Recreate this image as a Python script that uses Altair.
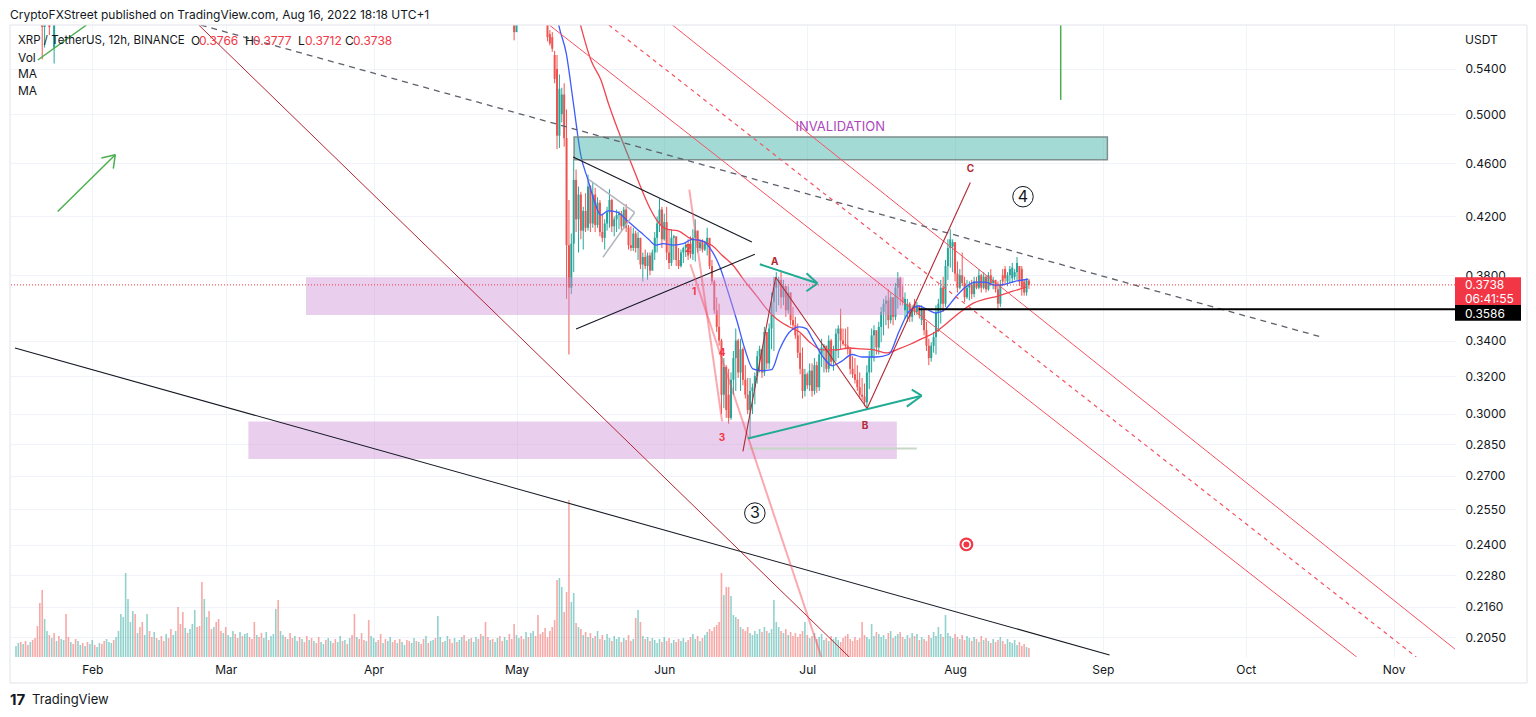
import altair as alt
import pandas as pd

FONT = "Inter"
INK = "#131722"
TEAL = "#26a69a"
RED = "#ef5350"

# ---------------- 12h candles XRP/USDT (Binance), first candle 2022-05-07 12:00 ----------------
CANDLE_START = "2022-05-07 12:00"
opens = [
    .592, .573, .570, .553, .540, .482, .500, .517, .480, .400,
    .372, .401, .447, .418, .436, .410, .424, .412, .442, .415,
    .436, .414, .430, .409, .405, .415, .423, .432, .413, .418,
    .421, .422, .413, .425, .412, .400, .398, .408, .398, .405,
    .387, .392, .386, .393, .383, .395, .405, .415, .425, .404,
    .416, .395, .388, .405, .406, .390, .386, .395, .398, .400,
    .401, .394, .405, .410, .398, .402, .397, .401, .405, .386,
    .376, .358, .348, .340, .310, .325, .310, .298, .318, .330,
    .340, .322, .335, .318, .310, .302, .312, .314, .320, .331,
    .335, .322, .345, .327, .347, .363, .372, .376, .377, .366,
    .373, .358, .369, .352, .349, .343, .333, .324, .312, .321,
    .315, .323, .312, .326, .314, .332, .336, .337, .324, .340,
    .328, .334, .344, .347, .340, .338, .337, .335, .324, .321,
    .318, .314, .310, .309, .306, .322, .330, .343, .346, .336,
    .348, .357, .362, .364, .352, .366, .354, .372, .378, .366,
    .358, .356, .362, .354, .362, .357, .361, .352, .358, .346,
    .337, .330, .337, .342, .357, .362, .372, .362, .386, .398,
    .399, .402, .381, .372, .380, .375, .366, .372, .374, .368,
    .376, .372, .380, .372, .379, .371, .380, .375, .377, .371,
    .362, .380, .384, .376, .380, .378, .379, .382, .386, .384,
    .376, .369, .3766,
]
highs = [
    .600, .577, .575, .557, .553, .535, .523, .527, .504, .432,
    .408, .463, .455, .442, .438, .427, .437, .451, .443, .445,
    .441, .434, .432, .422, .418, .427, .440, .433, .420, .425,
    .424, .424, .427, .429, .414, .413, .412, .410, .409, .405,
    .395, .397, .395, .395, .397, .409, .420, .433, .427, .422,
    .427, .411, .411, .407, .406, .398, .397, .399, .402, .404,
    .406, .411, .418, .410, .404, .404, .403, .412, .405, .390,
    .377, .366, .362, .341, .330, .326, .324, .322, .334, .347,
    .341, .341, .336, .326, .319, .319, .316, .322, .334, .337,
    .335, .348, .345, .350, .369, .379, .382, .379, .382, .377,
    .373, .373, .369, .360, .354, .350, .344, .336, .324, .322,
    .327, .327, .330, .328, .335, .341, .338, .337, .343, .341,
    .337, .347, .349, .359, .347, .347, .348, .336, .331, .330,
    .326, .322, .319, .316, .326, .334, .347, .349, .346, .351,
    .360, .365, .367, .371, .369, .366, .375, .382, .379, .373,
    .369, .365, .363, .361, .365, .363, .361, .361, .359, .351,
    .341, .339, .345, .361, .365, .377, .379, .390, .404, .411,
    .404, .402, .389, .384, .395, .379, .377, .376, .377, .379,
    .379, .384, .381, .382, .380, .382, .384, .379, .377, .376,
    .377, .384, .386, .382, .386, .388, .384, .392, .386, .386,
    .377, .378, .3777,
]
lows = [
    .566, .562, .556, .527, .471, .472, .493, .473, .365, .332,
    .368, .382, .409, .395, .404, .397, .409, .410, .409, .412,
    .409, .412, .406, .402, .397, .410, .412, .409, .406, .409,
    .411, .410, .411, .409, .397, .396, .396, .395, .390, .384,
    .376, .384, .377, .380, .383, .390, .395, .409, .398, .403,
    .390, .384, .386, .390, .386, .384, .385, .388, .392, .390,
    .391, .390, .389, .395, .396, .395, .396, .393, .384, .374,
    .356, .345, .337, .300, .303, .298, .295, .297, .310, .312,
    .319, .312, .315, .308, .300, .288, .300, .305, .316, .322,
    .319, .320, .324, .324, .335, .334, .357, .361, .359, .361,
    .354, .356, .349, .347, .341, .330, .321, .308, .309, .313,
    .312, .309, .310, .311, .312, .325, .322, .322, .322, .326,
    .323, .328, .330, .335, .337, .335, .332, .321, .319, .316,
    .312, .308, .307, .304, .302, .313, .322, .328, .332, .332,
    .339, .343, .349, .347, .350, .349, .352, .359, .361, .361,
    .353, .351, .351, .351, .355, .355, .353, .349, .343, .334,
    .326, .328, .333, .332, .345, .350, .357, .360, .377, .385,
    .382, .376, .369, .371, .373, .363, .365, .364, .365, .366,
    .371, .371, .369, .371, .369, .370, .373, .371, .369, .359,
    .360, .373, .375, .373, .375, .375, .377, .377, .373, .367,
    .367, .367, .3712,
]
closes = [
    .570, .564, .559, .531, .482, .522, .517, .480, .400, .372,
    .401, .447, .418, .436, .410, .424, .412, .442, .415, .436,
    .414, .430, .409, .405, .415, .423, .432, .413, .418, .421,
    .422, .413, .425, .412, .400, .398, .408, .398, .405, .387,
    .392, .386, .393, .383, .395, .405, .415, .425, .404, .416,
    .395, .388, .405, .406, .390, .386, .395, .398, .400, .393,
    .394, .405, .410, .398, .402, .397, .401, .405, .386, .376,
    .358, .348, .340, .310, .325, .302, .298, .318, .330, .340,
    .322, .335, .318, .310, .302, .312, .314, .320, .331, .335,
    .322, .345, .327, .347, .363, .372, .376, .377, .366, .373,
    .358, .369, .352, .349, .343, .333, .324, .312, .321, .315,
    .323, .312, .326, .314, .332, .336, .337, .324, .340, .328,
    .334, .344, .347, .340, .338, .337, .335, .324, .321, .318,
    .314, .310, .309, .306, .322, .330, .343, .346, .336, .348,
    .357, .362, .364, .352, .366, .354, .372, .378, .366, .363,
    .365, .362, .354, .359, .357, .361, .355, .358, .346, .337,
    .330, .337, .342, .357, .362, .372, .362, .386, .398, .404,
    .402, .381, .372, .380, .375, .366, .372, .374, .368, .376,
    .372, .380, .372, .379, .371, .380, .375, .377, .371, .362,
    .374, .376, .378, .380, .384, .385, .382, .388, .376, .372,
    .369, .3766, .3738,
]

# earlier candles whose lows dip into the visible price range (top edge of the chart)
early_t = ["01-21 12", "01-22 00", "01-23 00", "01-24 00", "04-30 12", "05-01 00"]
early_o = [.640, .580, .610, .560, .600, .575]
early_h = [.660, .620, .630, .620, .610, .600]
early_l = [.549, .560, .572, .545, .567, .578]
early_c = [.580, .600, .580, .600, .575, .590]

# ---------------- 12h volume, first bar 2022-01-16 00:00 (millions XRP) ----------------
VOL_START = "2022-01-16 00:00"
volumes = [
    110, 140, 150, 130, 160, 120, 150, 170, 190, 310, 540, 670, 380, 260, 220, 190, 240, 160, 210, 180,
    170, 430, 200, 150, 130, 180, 160, 120, 140, 110, 150, 130, 170, 120, 100, 140, 130, 160, 180, 150,
    140, 170, 200, 260, 430, 400, 840, 580, 350, 460, 430, 240, 300, 350, 220, 430, 260, 200, 250, 190,
    170, 210, 160, 230, 190, 280, 220, 260, 500, 330, 450, 290, 240, 280, 330, 470, 300, 310, 750, 580,
    400, 460, 280, 300, 350, 380, 260, 240, 300, 220, 200, 260, 230, 190, 250, 210, 230, 240, 200, 180,
    350, 220, 200, 240, 190, 250, 170, 210, 230, 480, 570, 260, 220, 200, 180, 240, 190, 210, 160, 200,
    180, 150, 210, 170, 190, 160, 140, 200, 150, 130, 170, 190, 160, 140, 180, 150, 210, 160, 170, 130,
    190, 220, 430, 200, 180, 240, 170, 160, 370, 210, 190, 150, 170, 230, 140, 180, 160, 200, 150, 170,
    140, 180, 150, 120, 170, 160, 140, 190, 160, 150, 130, 180, 210, 140, 160, 170, 190, 410, 200, 150,
    160, 210, 180, 140, 190, 150, 170, 200, 220, 160, 180, 190, 150, 200, 180, 230, 210, 350, 200, 170,
    180, 150, 190, 210, 160, 200, 170, 230, 180, 330, 220, 190, 210, 180, 250, 200, 240, 260, 210, 420,
    230, 250, 290, 200, 260, 300, 370, 770, 790, 700, 450, 650, 1570, 550, 640, 340, 300, 280, 220, 250,
    200, 240, 190, 210, 260, 180, 220, 170, 230, 190, 160, 210, 180, 200, 150, 190, 170, 220, 160, 180,
    390, 470, 350, 210, 180, 200, 160, 190, 170, 140, 180, 150, 200, 160, 190, 140, 170, 150, 180, 160,
    190, 150, 170, 200, 230, 180, 210, 160, 190, 220, 250, 280, 260, 300, 320, 350, 840, 620, 700, 700,
    610, 420, 400, 380, 300, 280, 260, 300, 240, 220, 260, 230, 280, 250, 300, 260, 240, 280, 570, 350,
    300, 260, 240, 280, 220, 250, 210, 240, 200, 230, 260, 350, 220, 190, 210, 240, 180, 200, 230, 170,
    190, 160, 210, 180, 200, 170, 150, 190, 210, 230, 180, 160, 200, 170, 190, 350, 220, 200, 180, 330,
    210, 250, 230, 200, 220, 180, 240, 260, 190, 210, 230, 250, 200, 180, 220, 190, 240, 210, 230, 170,
    200, 180, 160, 220, 190, 250, 210, 300, 230, 200, 420, 240, 210, 190, 230, 200, 180, 220, 170, 210,
    190, 160, 200, 180, 150, 210, 170, 190, 160, 140, 180, 150, 170, 200, 160, 130, 180, 150, 140, 170,
    120, 150, 110, 130, 100, 90,
]
# direction of the volume bars before the first plotted candle ('u' up, 'd' down)
vol_dir_early = "".join([
    "uududduddd", "dduudududu", "uddudduudu", "duuduudduu", "uduuuuuuuu",
    "dudduuddud", "uddudduudd", "duduuudddu", "uddudddudu", "uudduduudd",
    "dudduuduuu", "duududduud", "uddududduu", "duudduudud", "uddudddudu",
    "uudduduudd", "uduudduudu", "dduduuduud", "uudduduudd", "uduudduddu",
    "duudduuddd", "uudduduudd", "ddd",
])

# ---------------- moving averages ----------------
ma_fast = [
    ("05-08 12", .620), ("05-09 23", .580), ("05-11 10", .555), ("05-12 22", .510), ("05-14 12", .466),
    ("05-16 00", .447), ("05-17 06", .432), ("05-18 17", .421), ("05-20 05", .424), ("05-22 06", .423),
    ("05-23 22", .418), ("05-25 14", .413), ("05-27 00", .409), ("05-28 17", .404), ("05-30 05", .400),
    ("05-31 19", .401), ("06-02 22", .400), ("06-05 00", .401), ("06-06 22", .404), ("06-09 05", .4025),
    ("06-10 14", .398), ("06-12 17", .385), ("06-14 10", .369), ("06-16 06", .3515), ("06-17 22", .335),
    ("06-19 14", .324), ("06-21 12", .323), ("06-23 12", .3235), ("06-25 05", .335), ("06-27 07", .345),
    ("06-29 10", .348), ("06-30 19", .347), ("07-02 02", .341), ("07-04 05", .331), ("07-06 06", .3257),
    ("07-08 02", .328), ("07-10 10", .332), ("07-12 12", .3306), ("07-15 10", .3306), ("07-18 02", .332),
    ("07-20 05", .345), ("07-22 07", .357), ("07-24 10", .3606), ("07-26 12", .358), ("07-27 22", .3563),
    ("07-30 00", .3587), ("08-01 02", .366), ("08-03 05", .3724), ("08-05 06", .3755), ("08-07 07", .3755),
    ("08-09 10", .3736), ("08-11 12", .3742), ("08-13 14", .3761), ("08-16 07", .3774),
]
ma_slow = [
    ("05-12 12", .620), ("05-14 13", .580), ("05-16 15", .548), ("05-18 17", .530), ("05-20 09", .508),
    ("05-22 06", .487), ("05-23 22", .4706), ("05-25 14", .455), ("05-27 11", .438), ("05-29 03", .425),
    ("05-30 19", .4157), ("06-01 16", .4108), ("06-03 18", .410), ("06-06 11", .4046), ("06-09 04", .4025),
    ("06-11 01", .3998), ("06-13 03", .3931), ("06-15 10", .3865), ("06-17 22", .3761), ("06-20 10", .3667),
    ("06-22 12", .3587), ("06-24 14", .3527), ("06-27 07", .3479), ("06-29 09", .345), ("07-01 11", .3392),
    ("07-04 04", .3346), ("07-07 02", .3346), ("07-09 19", .3357), ("07-12 07", .3352), ("07-15 00", .3346),
    ("07-17 17", .3329), ("07-20 05", .3352), ("07-22 17", .338), ("07-25 10", .3415), ("07-27 22", .345),
    ("07-30 14", .3509), ("08-02 03", .3569), ("08-04 20", .3624), ("08-07 07", .3648), ("08-10 00", .3667),
    ("08-13 03", .3698), ("08-15 22", .3724),
]

# ---------------- axes ----------------
price_ticks = [0.2050, 0.2160, 0.2280, 0.2400, 0.2550, 0.2700, 0.2850, 0.3000,
               0.3200, 0.3400, 0.3800, 0.4200, 0.4600, 0.5000, 0.5400]
month_ticks = [2, 3, 4, 5, 6, 7, 8, 9, 10, 11]
PRICE_RANGE = [0.1983, 0.582]
last_price = 0.3738
level_price = 0.3586

# ---------------- drawings: (start, price, end, price) ----------------
red_channel = [("05-07 21", .582, "10-24 06", .1983), ("06-02 17", .582, "11-15 23", .1983)]
red_channel_mid = [("05-20 09", .582, "11-05 18", .1983)]
dark_red_lines = [("02-23 08", .582, "07-09 19", .1983)]
abc_wave = [("06-17 12", .2815, "06-24 09", .3787), ("06-24 09", .3787, "07-13 13", .3028),
            ("07-13 13", .3028, "08-04 05", .4450)]
black_dashed = [("02-23 18", .582, "10-16 18", .3421)]
black_lines = [("01-15 19", .3357, "09-02 10", .199), ("05-12 21", .4648, "06-19 09", .4021),
               ("05-13 12", .3467, "06-20 00", .3938)]
gray_pennant = [("05-16 05", .4473, "05-25 19", .4229), ("05-25 19", .4229, "05-19 03", .3918)]
pink_lines = [("06-06 06", .4397, "06-13 03", .2962), ("06-06 11", .3872, "07-03 23", .1983)]
teal_arrows = [("06-21 01", .3872, "07-03 03", .3748), ("06-30 20", .3813, "07-03 03", .3748),
               ("06-30 20", .3698, "07-03 03", .3748), ("06-18 13", .2877, "07-25 00", .3095),
               ("07-22 22", .3127, "07-25 00", .3095), ("07-21 21", .3038, "07-25 00", .3095)]
green_lines = [("01-24 18", .4236, "02-05 20", .4666), ("02-02 22", .4640, "02-05 20", .4666),
               ("02-05 10", .4557, "02-05 20", .4666), ("01-20 14", .5483, "01-30 19", .582),
               ("08-23 04", .582, "08-23 04", .5123)]
low_marker = [("06-18 13", .2829, "07-23 23", .2829)]
level_line = [("07-24 09", level_price, "11-20 00", level_price)]

invalidation_box = [("05-13 02", "09-01 23", .4809, .4627)]
support_boxes = [("03-17 20", "07-21 06", .3787, .3551), ("03-05 18", "07-19 19", .2962, .2778)]

abc_labels = [("A", "06-24 04", .3885), ("B", "07-13 03", .2937), ("C", "08-04 05", .4557)]
count_labels = [("1", "06-07 07", .3692), ("2", "06-06 01", .3971), ("3", "06-13 03", .2882),
                ("4", "06-13 03", .3329)]
circled_labels = [("3", "06-20 00", .2534), ("4", "08-15 06", .4344)]
target_mark = [("08-03 09", .2402)]
invalidation_text = [("INVALIDATION", "07-07 22", .4892)]


def iso(s):
    return f"2022-{s[:5]}T{s[6:8]}:00:00"


XS = alt.Scale(domain=[alt.DateTime(year=2022, month=1, date=15, hours=19),
                       alt.DateTime(year=2022, month=11, date=12, hours=20)], nice=False)
XAX = alt.Axis(values=[alt.DateTime(year=2022, month=m, date=1) for m in month_ticks],
               format="%b", labelAngle=0, ticks=False, domain=False, grid=True,
               gridColor="#f0f3fa", labelFontSize=12, labelColor=INK, labelFont=FONT,
               labelPadding=7, title=None)
YS = alt.Scale(type="log", domain=PRICE_RANGE, nice=False)
YAX = alt.Axis(orient="right", values=price_ticks, format=".4f", ticks=False, domain=False,
               grid=True, gridColor="#f0f3fa", labelFontSize=12, labelColor=INK, labelFont=FONT,
               labelPadding=10, labelAlign="left", title=None)


def X(f):
    return alt.X(f, type="temporal", scale=XS, axis=XAX)


def Y(f):
    return alt.Y(f, type="quantitative", scale=YS, axis=YAX)


def seg_chart(rows, color, width=1.0, dash=None, opacity=1.0):
    df = pd.DataFrame([{"t1": iso(a), "p1": b, "t2": iso(c), "p2": d} for a, b, c, d in rows])
    props = dict(color=color, strokeWidth=width, opacity=opacity, clip=True)
    if dash is not None:
        props["strokeDash"] = dash
    return alt.Chart(df).mark_rule(**props).encode(x=X("t1"), x2="t2", y=Y("p1"), y2="p2")


def box_chart(rows, fill, opacity, stroke=None, sw=0):
    df = pd.DataFrame([{"t1": iso(a), "t2": iso(b), "p1": c, "p2": d} for a, b, c, d in rows])
    props = dict(fill=fill, fillOpacity=opacity, clip=True)
    if stroke:
        props.update(stroke=stroke, strokeWidth=sw)
    return alt.Chart(df).mark_rect(**props).encode(x=X("t1"), x2="t2", y=Y("p1"), y2="p2")


def data_text(rows, color, size, weight="normal", dy=0):
    df = pd.DataFrame([{"s": s, "t": iso(t), "p": p} for s, t, p in rows])
    return alt.Chart(df).mark_text(color=color, fontSize=size, fontWeight=weight, font=FONT,
                                   align="center", baseline="middle", dy=dy).encode(
        x=X("t"), y=Y("p"), text="s:N")


def px_text(text, x, y, color=INK, size=12, weight="normal", align="left"):
    return alt.Chart(pd.DataFrame({"s": [text]})).mark_text(
        color=color, fontSize=size, fontWeight=weight, font=FONT, align=align,
        baseline="middle").encode(x=alt.value(x), y=alt.value(y), text="s:N")


# ---------------- candles ----------------
n = len(closes)
ct = list(pd.date_range(CANDLE_START, periods=n, freq="12h").strftime("%Y-%m-%dT%H:%M:%S"))
cdf = pd.DataFrame({
    "t": [iso(s) for s in early_t] + ct,
    "o": early_o + opens, "h": early_h + highs, "l": early_l + lows, "c": early_c + closes,
})
cdf["lo"] = cdf[["o", "h", "l", "c"]].min(axis=1)
cdf["hi"] = cdf[["o", "h", "l", "c"]].max(axis=1)
cdf["col"] = [TEAL if c >= o else RED for o, c in zip(cdf["o"], cdf["c"])]

wicks = alt.Chart(cdf).mark_rule(strokeWidth=1, clip=True).encode(
    x=X("t"), y=Y("lo"), y2="hi", color=alt.Color("col:N", scale=None))
bodies = alt.Chart(cdf).mark_rule(strokeWidth=2, clip=True).encode(
    x=X("t"), y=Y("o"), y2="c", color=alt.Color("col:N", scale=None))

# ---------------- volume ----------------
vt = pd.date_range(VOL_START, periods=len(volumes), freq="12h")
first_candle = pd.Timestamp(CANDLE_START)
vcol = []
for i, t in enumerate(vt):
    k = int((t - first_candle) / pd.Timedelta(hours=12))
    if 0 <= k < n:
        vcol.append(TEAL if closes[k] >= opens[k] else RED)
    elif i < len(vol_dir_early):
        vcol.append(TEAL if vol_dir_early[i] == "u" else RED)
    else:
        vcol.append(TEAL)
vdf = pd.DataFrame({"t": vt.strftime("%Y-%m-%dT%H:%M:%S"), "v": volumes, "col": vcol})
vol = alt.Chart(vdf).mark_bar(size=1.6, opacity=0.5, clip=True).encode(
    x=X("t"), y=alt.Y("v:Q", scale=alt.Scale(domain=[0, 6320], nice=False), axis=None),
    color=alt.Color("col:N", scale=None))

# ---------------- moving averages ----------------
mf = pd.DataFrame({"t": [iso(a) for a, _ in ma_fast], "p": [b for _, b in ma_fast]})
ms = pd.DataFrame({"t": [iso(a) for a, _ in ma_slow], "p": [b for _, b in ma_slow]})
ma_fast_line = alt.Chart(mf).mark_line(color="#3d5afe", strokeWidth=1.3, clip=True,
                                       interpolate="monotone").encode(x=X("t"), y=Y("p"))
ma_slow_line = alt.Chart(ms).mark_line(color="#f0444f", strokeWidth=1.3, clip=True,
                                       interpolate="monotone").encode(x=X("t"), y=Y("p"))

# ---------------- price lines ----------------
last_line = alt.Chart(pd.DataFrame({"p": [last_price]})).mark_rule(
    color="#f23645", strokeWidth=1, strokeDash=[1, 2]).encode(y=Y("p"))

# right-hand price labels
lbl_red = alt.Chart(pd.DataFrame({"p1": [0.3787], "p2": [0.3612]})).mark_rect(
    fill="#f23645").encode(x=alt.value(1445), x2=alt.value(1511), y=Y("p1"), y2="p2")
lbl_blk = alt.Chart(pd.DataFrame({"p1": [0.3612], "p2": [0.3516]})).mark_rect(
    fill="#000000").encode(x=alt.value(1445), x2=alt.value(1511), y=Y("p1"), y2="p2")
lbl_txt = alt.Chart(pd.DataFrame({"s": ["0.3738", "06:41:55", "0.3586"],
                                  "p": [0.3738, 0.3650, 0.3557]})).mark_text(
    color="white", fontSize=12, font=FONT, align="left", baseline="middle").encode(
    x=alt.value(1455), y=Y("p"), text="s:N")

# circled wave numbers and target
cdf2 = pd.DataFrame([{"s": s, "t": iso(t), "p": p} for s, t, p in circled_labels])
circles = alt.Chart(cdf2).mark_point(shape="circle", filled=False, size=420, color=INK,
                                     strokeWidth=1, opacity=1).encode(x=X("t"), y=Y("p"))
tdf = pd.DataFrame([{"t": iso(t), "p": p} for t, p in target_mark])
target_outer = alt.Chart(tdf).mark_point(shape="circle", filled=True, size=190, color="#f23645",
                                         opacity=1).encode(x=X("t"), y=Y("p"))
target_mid = alt.Chart(tdf).mark_point(shape="circle", filled=True, size=90, color="white",
                                       opacity=1).encode(x=X("t"), y=Y("p"))
target_in = alt.Chart(tdf).mark_point(shape="circle", filled=True, size=35, color="#f23645",
                                      opacity=1).encode(x=X("t"), y=Y("p"))

frame = alt.Chart(pd.DataFrame({"s": [""]})).mark_rect(
    fill=None, stroke="#e0e3eb", strokeWidth=1).encode(
    x=alt.value(0), x2=alt.value(1517), y=alt.value(0), y2=alt.value(658))

layers = [
    wicks, bodies, ma_slow_line, ma_fast_line,
    box_chart(support_boxes, "#ce93d8", 0.45),
    box_chart(invalidation_box, "#26a69a", 0.42, stroke="#7e8f8c", sw=1.5),
    seg_chart(low_marker, "#c8d8c8", 2),
    seg_chart(dark_red_lines, "#b22833", 1),
    seg_chart(red_channel, "#f7525f", 1),
    seg_chart(red_channel_mid, "#f7525f", 1.2, dash=[4, 4]),
    seg_chart(black_dashed, "#5d606b", 1.3, dash=[6, 5]),
    seg_chart(black_lines, INK, 1.1),
    seg_chart(gray_pennant, "#b2b5be", 1.5),
    seg_chart(pink_lines, "#f7525f", 2, opacity=0.5),
    seg_chart(abc_wave, "#b22833", 1.1),
    seg_chart(teal_arrows, "#22ab94", 2),
    seg_chart(green_lines, "#4caf50", 1.5),
    seg_chart(level_line, "#000000", 2),
    last_line,
    data_text(invalidation_text, "#ab47bc", 13),
    data_text(abc_labels, "#b22833", 10, "bold"),
    data_text(count_labels, "#f23645", 10, "bold"),
    circles,
    data_text(circled_labels, INK, 16),
    target_outer, target_mid, target_in,
    lbl_red, lbl_blk, lbl_txt,
    frame,
    px_text("CryptoFXStreet published on TradingView.com, Aug 16, 2022 18:18 UTC+1", 0, -10, size=12),
    px_text("XRP / TetherUS, 12h, BINANCE", 8, 16, size=11.5),
    px_text("O", 181, 16, size=12), px_text("0.3766", 189, 16, color="#f23645", size=12),
    px_text("H", 235, 16, size=12), px_text("0.3777", 243, 16, color="#f23645", size=12),
    px_text("L", 288, 16, size=12), px_text("0.3712", 295, 16, color="#f23645", size=12),
    px_text("C", 335, 16, size=12), px_text("0.3738", 343, 16, color="#f23645", size=12),
    px_text("Vol", 8, 33, size=12), px_text("MA", 8, 49, size=12), px_text("MA", 8, 66, size=12),
    px_text("USDT", 1455, 15, size=12),
    px_text("17", 0, 675, size=15, weight="bold"),
    px_text("TradingView", 22, 675, size=13),
]

price = alt.layer(*layers)
chart = alt.layer(vol, price).resolve_scale(y="independent").properties(
    width=1445, height=632,
    padding={"left": 2, "top": 17, "right": 73, "bottom": 52},
    autosize=alt.AutoSizeParams(type="none"),
).configure_view(stroke=None)

chart.save("out.html", embed_options={"renderer": "svg", "actions": False})
